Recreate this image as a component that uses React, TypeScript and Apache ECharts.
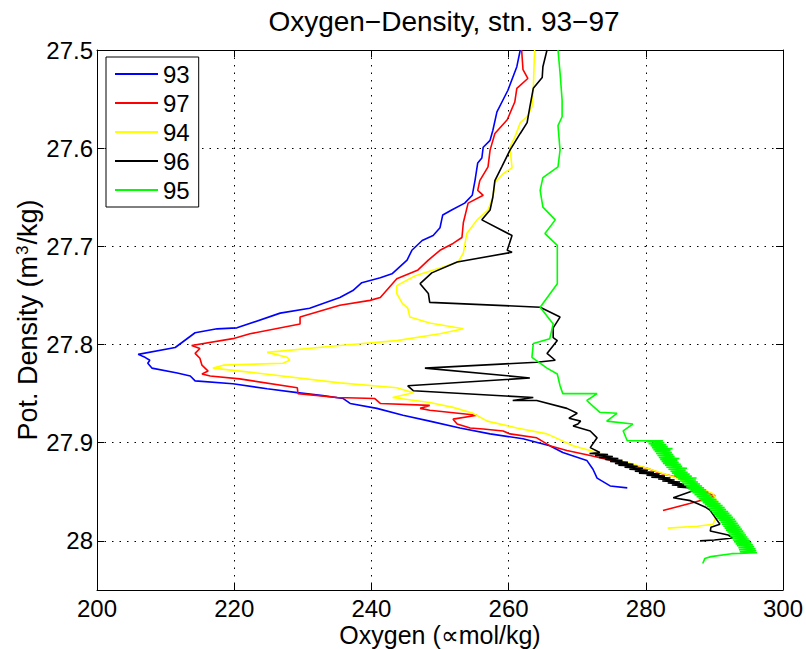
import React, { useEffect, useRef } from "react";
import * as echarts from "echarts";

const FONT = '"Liberation Sans", Arial, Helvetica, sans-serif';

const titleText = "Oxygen\u2212Density, stn. 93\u221297";
const xName = "Oxygen (\u221dmol/kg)";
const yName = "Pot. Density (m{sup|3}/kg)";

const stations = ["93", "97", "94", "96", "95"];
const colors = ["#0000ff", "#ff0000", "#ffff00", "#000000", "#00ff00"];

// [oxygen, potential density]
const s93: [number, number][] = [
  [261.7, 27.5], [261.2, 27.517], [259.9, 27.541], [258.3, 27.563], [257.7, 27.582], [257.3, 27.592],
  [256.3, 27.599], [256.1, 27.61], [255.5, 27.615], [255.1, 27.633], [254.7, 27.648], [253.6, 27.656],
  [251.7, 27.663], [250.4, 27.668], [250.0, 27.681], [249.0, 27.689], [247.4, 27.694], [245.9, 27.704],
  [245.2, 27.714], [243.0, 27.728], [241.3, 27.732], [238.6, 27.737], [237.3, 27.745], [235.4, 27.752],
  [231.0, 27.763], [226.7, 27.768], [220.4, 27.783], [217.5, 27.784], [214.3, 27.788], [211.4, 27.803],
  [206.0, 27.81], [207.0, 27.813], [207.7, 27.816], [207.4, 27.819], [208.0, 27.824], [211.7, 27.829],
  [213.6, 27.832], [214.3, 27.837], [219.8, 27.84], [224.8, 27.845], [229.2, 27.849], [232.9, 27.852],
  [235.9, 27.855], [236.9, 27.86], [240.8, 27.865], [244.6, 27.872], [248.5, 27.878], [252.9, 27.885],
  [257.3, 27.891], [262.1, 27.896], [266.0, 27.903], [267.9, 27.91], [271.4, 27.918], [272.3, 27.927],
  [272.9, 27.936], [274.8, 27.944], [277.3, 27.946],
];

const s97: [number, number][] = [
  [261.9, 27.5], [262.1, 27.52], [262.8, 27.529], [261.2, 27.539], [260.9, 27.553], [259.8, 27.571],
  [258.0, 27.585], [257.3, 27.602], [257.0, 27.619], [255.8, 27.633], [255.5, 27.643], [256.3, 27.648],
  [254.1, 27.656], [253.4, 27.676], [253.2, 27.691], [251.9, 27.697], [250.0, 27.704], [248.3, 27.714],
  [246.8, 27.724], [243.7, 27.733], [241.3, 27.752], [239.8, 27.755], [235.4, 27.76], [229.6, 27.772],
  [229.6, 27.779], [222.3, 27.789], [219.8, 27.794], [213.8, 27.801], [215.0, 27.804], [214.3, 27.809],
  [215.0, 27.814], [215.3, 27.821], [216.2, 27.827], [215.3, 27.83], [216.5, 27.832], [220.8, 27.835],
  [229.2, 27.844], [229.3, 27.85], [235.0, 27.854], [240.5, 27.855], [241.3, 27.86], [248.5, 27.862],
  [247.1, 27.865], [248.5, 27.867], [255.4, 27.872], [251.9, 27.876], [252.5, 27.881], [254.4, 27.885],
  [256.3, 27.886], [259.2, 27.888], [260.2, 27.891], [264.1, 27.895], [266.0, 27.903], [268.5, 27.908],
  [271.9, 27.913], [276.2, 27.92], [280.2, 27.926], [282.1, 27.931], [285.0, 27.936], [286.4, 27.939],
  [288.3, 27.949], [290.1, 27.954], [289.4, 27.956], [286.4, 27.962], [282.5, 27.969],
];

const s94: [number, number][] = [
  [263.8, 27.5], [263.7, 27.517], [263.6, 27.541], [263.4, 27.558], [262.7, 27.568], [261.7, 27.574],
  [260.9, 27.589], [260.2, 27.599], [260.5, 27.62], [259.2, 27.626], [258.0, 27.635], [257.7, 27.65],
  [257.0, 27.663], [255.4, 27.673], [253.9, 27.687], [253.4, 27.707], [252.6, 27.716], [250.0, 27.722],
  [246.4, 27.73], [243.7, 27.74], [243.7, 27.748], [244.5, 27.758], [245.3, 27.763], [245.6, 27.772],
  [248.5, 27.778], [253.4, 27.784], [250.0, 27.789], [243.7, 27.796], [235.4, 27.801], [224.8, 27.808],
  [227.7, 27.813], [228.1, 27.816], [227.1, 27.819], [218.4, 27.821], [216.9, 27.824], [223.3, 27.829],
  [235.4, 27.839], [243.7, 27.844], [246.1, 27.849], [243.1, 27.854], [248.5, 27.859], [251.9, 27.864],
  [254.8, 27.87], [256.9, 27.878], [261.2, 27.885], [265.6, 27.891], [269.4, 27.903], [272.9, 27.91],
  [276.2, 27.918], [280.2, 27.926], [284.5, 27.936], [287.9, 27.946], [289.8, 27.952], [290.8, 27.966],
  [289.8, 27.983], [287.5, 27.985], [283.2, 27.987],
];

const s96: [number, number][] = [
  [265.6, 27.5], [265.0, 27.517], [264.9, 27.528], [263.6, 27.539], [263.1, 27.558], [262.7, 27.574],
  [261.7, 27.585], [260.2, 27.602], [259.0, 27.619], [258.0, 27.633], [257.7, 27.65], [257.3, 27.663],
  [256.1, 27.673], [260.5, 27.689], [259.8, 27.704], [260.5, 27.706], [252.5, 27.716], [248.8, 27.727],
  [247.1, 27.738], [248.3, 27.748], [248.5, 27.757], [264.6, 27.762], [267.5, 27.772], [266.5, 27.783],
  [266.5, 27.793], [267.1, 27.796], [265.6, 27.809], [266.8, 27.816], [264.1, 27.818], [247.8, 27.824],
  [263.1, 27.834], [245.3, 27.842], [246.1, 27.847], [263.6, 27.854], [260.6, 27.857], [264.1, 27.857],
  [268.5, 27.865], [270.0, 27.87], [268.8, 27.875], [270.5, 27.878], [270.1, 27.881], [269.4, 27.883],
  [271.9, 27.888], [272.9, 27.895], [271.9, 27.905], [273.3, 27.91], [271.8, 27.911], [274.5, 27.912],
  [272.6, 27.913], [275.2, 27.914], [273.2, 27.915], [276.0, 27.916], [274.1, 27.917], [276.6, 27.918],
  [274.8, 27.919], [277.4, 27.92], [275.5, 27.921], [278.2, 27.922], [276.0, 27.923], [278.8, 27.924],
  [276.9, 27.925], [279.6, 27.926], [277.6, 27.927], [280.3, 27.928], [278.4, 27.929], [281.2, 27.93],
  [279.0, 27.931], [282.0, 27.932], [280.1, 27.933], [282.8, 27.934], [280.8, 27.935], [283.6, 27.936],
  [281.8, 27.937], [284.2, 27.938], [282.4, 27.939], [285.0, 27.94], [283.2, 27.941], [285.6, 27.942],
  [283.8, 27.943], [286.2, 27.944], [284.6, 27.945], [286.6, 27.946], [286.9, 27.949], [284.0, 27.956],
  [286.5, 27.959], [287.5, 27.962], [288.8, 27.966], [289.4, 27.969], [290.0, 27.975], [290.8, 27.983],
  [289.5, 27.986], [289.4, 27.99], [292.0, 27.994], [292.7, 27.997], [290.0, 27.999], [287.9, 28.0],
];

const s95: [number, number][] = [
  [267.2, 27.5], [267.5, 27.523], [267.8, 27.551], [267.8, 27.568], [267.2, 27.577], [267.5, 27.602],
  [267.2, 27.619], [265.0, 27.63], [264.6, 27.643], [265.0, 27.66], [266.8, 27.673], [265.3, 27.687],
  [267.1, 27.699], [267.1, 27.738], [264.6, 27.762], [266.5, 27.779], [266.0, 27.794], [263.6, 27.799],
  [263.4, 27.813], [265.6, 27.824], [267.1, 27.83], [267.5, 27.842], [267.9, 27.85], [272.9, 27.85],
  [271.4, 27.857], [273.3, 27.869], [275.8, 27.87], [274.3, 27.878], [278.1, 27.881], [276.7, 27.888],
  [277.3, 27.898], [282.5, 27.898], [280.2, 27.899], [282.7, 27.9], [280.4, 27.901], [283.0, 27.902],
  [280.7, 27.903], [283.2, 27.904], [280.9, 27.905], [283.9, 27.906], [281.1, 27.907], [283.6, 27.908],
  [281.3, 27.909], [283.8, 27.91], [281.5, 27.911], [284.0, 27.912], [281.7, 27.913], [284.2, 27.914],
  [281.9, 27.915], [284.9, 27.916], [282.1, 27.917], [284.6, 27.918], [282.3, 27.919], [284.8, 27.92],
  [282.5, 27.921], [285.1, 27.922], [282.8, 27.923], [285.3, 27.924], [283.0, 27.925], [286.0, 27.926],
  [283.3, 27.927], [285.8, 27.928], [283.6, 27.929], [286.1, 27.93], [283.8, 27.931], [286.4, 27.932],
  [284.1, 27.933], [286.7, 27.934], [284.4, 27.935], [287.4, 27.936], [284.7, 27.937], [287.3, 27.938],
  [285.0, 27.939], [287.6, 27.94], [285.3, 27.941], [287.9, 27.942], [285.6, 27.943], [288.2, 27.944],
  [285.9, 27.945], [288.5, 27.946], [286.2, 27.947], [288.8, 27.948], [286.5, 27.949], [289.1, 27.95],
  [286.8, 27.951], [289.4, 27.952], [287.1, 27.953], [289.7, 27.954], [287.4, 27.955], [290.0, 27.956],
  [287.7, 27.957], [290.3, 27.958], [288.0, 27.959], [290.6, 27.96], [288.3, 27.961], [290.9, 27.962],
  [288.6, 27.963], [291.2, 27.964], [288.9, 27.965], [291.5, 27.966], [289.2, 27.967], [291.7, 27.968],
  [289.4, 27.969], [292.0, 27.97], [289.7, 27.971], [292.2, 27.972], [289.9, 27.973], [292.5, 27.974],
  [290.2, 27.975], [292.7, 27.976], [290.4, 27.977], [293.0, 27.978], [290.7, 27.979], [293.2, 27.98],
  [290.9, 27.981], [293.4, 27.982], [291.1, 27.983], [293.6, 27.984], [291.3, 27.985], [293.8, 27.986],
  [291.5, 27.987], [294.0, 27.988], [291.7, 27.989], [294.2, 27.99], [291.9, 27.991], [294.4, 27.992],
  [292.1, 27.993], [294.6, 27.994], [292.3, 27.995], [294.8, 27.996], [292.5, 27.997], [295.0, 27.998],
  [292.7, 27.999], [295.2, 28.0], [292.9, 28.001], [295.4, 28.002], [293.1, 28.003], [295.6, 28.004],
  [293.3, 28.005], [295.8, 28.006], [293.5, 28.007], [296.0, 28.008], [293.6, 28.009], [296.1, 28.01],
  [293.7, 28.011], [296.2, 28.012], [292.5, 28.013], [289.5, 28.016], [288.6, 28.018], [288.3, 28.023],
];

const seriesData = [s93, s97, s94, s96, s95];

export default function App() {
  const ref = useRef<HTMLDivElement>(null);
  useEffect(() => {
    if (!ref.current) return;
    const chart = echarts.init(ref.current, undefined, { renderer: "svg" });
    const axisCommon = {
      axisLine: { show: true, lineStyle: { color: "#000", width: 1 } },
      axisTick: { show: true, inside: true, length: 7, lineStyle: { color: "#000", width: 1 } },
    };
    const xBase = { type: "value", min: 200, max: 300, interval: 20 };
    const yBase = { type: "value", min: 27.5, max: 28.05, interval: 0.1, inverse: true };
    chart.setOption({
      animation: false,
      backgroundColor: "#ffffff",
      textStyle: { fontFamily: FONT },
      title: {
        text: titleText,
        left: 444,
        top: 7,
        textAlign: "center",
        padding: 0,
        textStyle: { fontFamily: FONT, fontSize: 28, fontWeight: "normal", color: "#000" },
      },
      legend: {
        data: stations,
        orient: "vertical",
        left: 106,
        top: 57,
        padding: [5, 9, 5, 9],
        itemGap: 5,
        itemWidth: 43,
        itemHeight: 2,
        icon: "rect",
        backgroundColor: "#fff",
        borderColor: "#000",
        borderWidth: 1,
        textStyle: { fontFamily: FONT, fontSize: 24, lineHeight: 24, color: "#000" },
      },
      grid: { left: 97, right: 23, top: 50, bottom: 59, show: false, outerBoundsMode: "none", containLabel: false },
      xAxis: [
        {
          ...xBase,
          position: "bottom",
          name: xName,
          nameLocation: "middle",
          nameGap: 33,
          nameMoveOverlap: false,
          nameTextStyle: { fontFamily: FONT, fontSize: 25, lineHeight: 24, color: "#000" },
          ...axisCommon,
          axisLabel: { show: true, fontFamily: FONT, fontSize: 24, lineHeight: 20, color: "#000", margin: 8 },
          splitLine: { show: true, lineStyle: { color: "#000", width: 1, type: [1.5, 6] } },
        },
        {
          ...xBase,
          position: "top",
          ...axisCommon,
          axisLabel: { show: false },
          splitLine: { show: false },
        },
      ],
      yAxis: [
        {
          ...yBase,
          position: "left",
          name: yName,
          nameLocation: "middle",
          nameGap: 56,
          nameRotate: 90,
          nameMoveOverlap: false,
          nameTextStyle: {
            fontFamily: FONT,
            fontSize: 27,
            color: "#000",
            rich: {
              sup: { fontFamily: FONT, fontSize: 17, color: "#000", verticalAlign: "top", lineHeight: 17, padding: [0, 1, 0, 1] },
            },
          },
          ...axisCommon,
          axisLabel: { show: true, showMaxLabel: false, fontFamily: FONT, fontSize: 24, color: "#000", margin: 4 },
          splitLine: { show: true, lineStyle: { color: "#000", width: 1, type: [1.5, 6] } },
        },
        {
          ...yBase,
          position: "right",
          ...axisCommon,
          axisLabel: { show: false },
          splitLine: { show: false },
        },
      ],
      series: stations.map((name, i) => ({
        name,
        type: "line",
        xAxisIndex: 0,
        yAxisIndex: 0,
        data: seriesData[i],
        symbol: "none",
        showSymbol: false,
        color: colors[i],
        lineStyle: { color: colors[i], width: 1.6 },
        itemStyle: { color: colors[i] },
      })),
    });
    return () => chart.dispose();
  }, []);
  return (
    <div
      ref={ref}
      style={{ position: "absolute", left: 0, top: 0, width: 806, height: 649, background: "#fff" }}
    />
  );
}
